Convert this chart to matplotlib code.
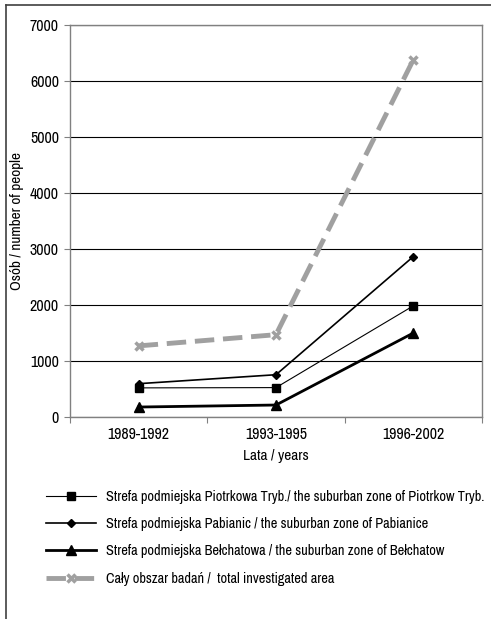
import matplotlib
matplotlib.use("Agg")
import matplotlib.pyplot as plt
from matplotlib.lines import Line2D

plt.rcParams['font.family'] = ['Archivo Narrow', 'DejaVu Sans']

categories = ["1989-1992", "1993-1995", "1996-2002"]
piotrkow = [520, 525, 1985]
pabianice = [595, 755, 2865]
belchatow = [178, 214, 1500]
total = [1270, 1470, 6380]

labels = [
    "Strefa podmiejska Piotrkowa Tryb./ the suburban zone of Piotrkow Tryb.",
    "Strefa podmiejska Pabianic / the suburban zone of Pabianice",
    "Strefa podmiejska Bełchatowa / the suburban zone of Bełchatow",
    "Cały obszar badań /  total investigated area",
]
yticks = [0, 1000, 2000, 3000, 4000, 5000, 6000, 7000]

W, H = 491, 619
fig = plt.figure(figsize=(W / 100, H / 100), dpi=100)
ax = fig.add_axes([70 / W, 1 - 417 / H, 412 / W, 392 / H])

x = list(range(len(categories)))
h1, = ax.plot(x, piotrkow, color='black', lw=0.8, marker='s', ms=6, label=labels[0], zorder=4)
h2, = ax.plot(x, pabianice, color='black', lw=1.2, marker='D', ms=4.5, label=labels[1], zorder=4)
h3, = ax.plot(x, belchatow, color='black', lw=2.0, marker='^', ms=7, label=labels[2], zorder=4)
h4, = ax.plot(x, total, color='#a0a0a0', lw=3.5, ls=(0, (4, 1.8)), marker='x', ms=6,
              mew=2.5, label=labels[3], zorder=3)

ax.set_xlim(-0.5, 2.5)
ax.set_ylim(0, 7000)
ax.set_yticks(yticks)
ax.set_yticklabels([str(v) for v in yticks], fontsize=11.5)
ax.yaxis.grid(True, color='black', lw=0.8)
ax.set_axisbelow(True)

ax.set_xticks([-0.5, 0.5, 1.5, 2.5])
ax.set_xticklabels([])
ax.set_xticks(x, minor=True)
ax.set_xticklabels(categories, minor=True, fontsize=11.5)
ax.tick_params(axis='x', which='minor', length=0, pad=7)
ax.tick_params(axis='x', which='major', length=4, color='#808080', direction='out')
ax.tick_params(axis='y', length=4, color='#808080', pad=4)

for s in ax.spines.values():
    s.set_color('#808080')
    s.set_linewidth(1.0)

ax.set_xlabel("Lata / years", fontsize=11, labelpad=5)
ax.set_ylabel("Osób / number of people", fontsize=11, labelpad=4)

fig.legend(handles=[h1, h2, h3, h4], loc='upper left',
           bbox_to_anchor=(40 / W, 1 - 484 / H), frameon=False, fontsize=10.3,
           numpoints=1, handlelength=3.5, handletextpad=0.7, labelspacing=0.93,
           borderaxespad=0)

fig.add_artist(Line2D([6 / W, 6 / W], [0, 1 - 5 / H], color='#404040', lw=1.2,
                      transform=fig.transFigure))
fig.add_artist(Line2D([6 / W, 1], [1 - 5 / H, 1 - 5 / H], color='#404040', lw=1.2,
                      transform=fig.transFigure))

fig.savefig("out.png", dpi=100)
